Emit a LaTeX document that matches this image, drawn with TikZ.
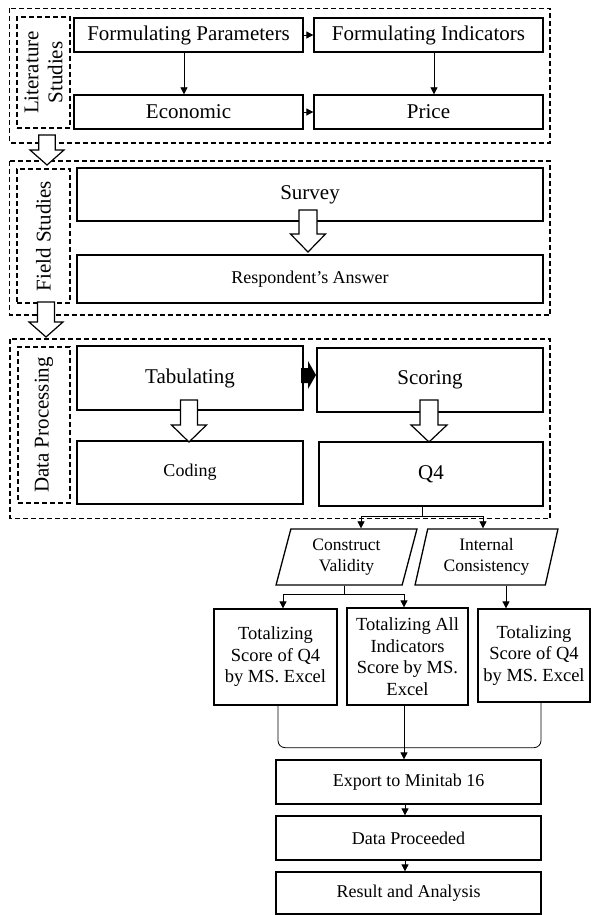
\documentclass[tikz,border=0pt]{standalone}
\usepackage{fontspec}
\setmainfont{Liberation Serif}
\usetikzlibrary{arrows.meta,shapes.geometric,calc}
\begin{document}
\begin{tikzpicture}[x=1pt,y=-1pt,
  box/.style={draw=black, line width=1.3pt, rectangle, inner sep=2pt, align=center},
  big/.style={font=\fontsize{21}{24}\selectfont},
  mid/.style={font=\fontsize{18.5}{21.5}\selectfont},
  grp/.style={draw=black, line width=1.2pt, dash pattern=on 5pt off 3pt},
  arr/.style={draw=black, line width=0.8pt, -{Triangle[length=7pt,width=7pt]}},
  ln/.style={draw=black, line width=0.8pt},
  hollow/.style={draw=black, line width=1.2pt, fill=white, line join=miter},
  para/.style={trapezium, trapezium left angle=76, trapezium right angle=104,
    trapezium stretches=true, draw=black, line width=1.3pt, align=center,
    inner sep=0pt, font=\fontsize{17.5}{21}\selectfont}
]
\newcommand\holarr[6]{% cx, shaft half, top, head start, head half, tip
  \draw[hollow] ({#1-#2},#3) -- ({#1+#2},#3) -- ({#1+#2},#4) -- ({#1+#5},#4)
    -- (#1,#6) -- ({#1-#5},#4) -- ({#1-#2},#4) -- cycle;}

\useasboundingbox (0,0) rectangle (592,915);
\fill[white] (0,0) rectangle (592,915);

% ---------- group 1: Literature Studies
\draw[grp] (9.5,8.5) rectangle (550,143);
\node[grp, rectangle, minimum width=53, minimum height=111] (lab1) at (43.5,72.5) {};
\node[big, rotate=90, align=center] (lab1t) at (lab1) {Literature\\Studies};
\node[box,big,minimum width=229,minimum height=34] (fp) at (188.5,35) {Formulating Parameters};
\node[box,big,minimum width=229,minimum height=34] (fi) at (428.5,35) {Formulating Indicators};
\node[box,big,minimum width=229,minimum height=34] (econ) at (188.5,112) {Economic};
\node[box,big,minimum width=229,minimum height=34] (price) at (428.5,112) {Price};
\draw[arr] (fp.east) -- (fi.west);
\draw[arr] (econ.east) -- (price.west);
\draw[arr] ($(fp.south)+(-4.5,0)$) -- ($(econ.north)+(-4.5,0)$);
\draw[arr] ($(fi.south)+(5.5,0)$) -- ($(price.north)+(5.5,0)$);

% ---------- group 2: Field Studies
\draw[grp] (9.5,161) rectangle (550,315);
\node[grp, rectangle, minimum width=53, minimum height=134] (lab2) at (43.5,236) {};
\node[big, rotate=90] (lab2t) at (lab2) {Field Studies};
\node[box,big,minimum width=466,minimum height=53] (survey) at (310,194.5) {Survey};
\node[box,mid,minimum width=466,minimum height=48,font=\fontsize{18}{21}\selectfont] (resp) at (310,279) {Respondent’s Answer};

% ---------- group 3: Data Processing
\draw[grp] (10,339) rectangle (550,518.5);
\node[grp, rectangle, minimum width=52, minimum height=156] (lab3) at (44,425) {};
\node[big, rotate=90] (lab3t) at (lab3) {Data Processing};
\node[box,big,minimum width=226,minimum height=64] (tab) at (190,378) {Tabulating};
\node[box,big,minimum width=226,minimum height=64] (score) at (430,380) {Scoring};
\node[box,minimum width=226,minimum height=63,font=\fontsize{18}{21}\selectfont] (coding) at (190,472.5) {Coding};
\node[box,big,minimum width=224,minimum height=64] (q4) at (431,474) {Q4};
\fill[black] (301,368) -- (308,368) -- (308,361) -- (316,375) -- (308,389) -- (308,383) -- (301,383) -- cycle;

% ---------- hollow block arrows
\holarr{47}{8.25}{135}{150}{17}{165}
\holarr{46}{8.5}{302}{322}{17}{337}
\holarr{308}{9}{210}{234}{17.5}{252}
\holarr{189}{8.5}{400}{425}{17.5}{442}
\holarr{429}{9}{400}{425}{18}{442}

% ---------- lower part
\node[para, minimum width=141, minimum height=56] (cv) at (346.5,557) {Construct\\Validity};
\node[para, minimum width=143, minimum height=56] (ic) at (486.5,557) {Internal\\Consistency};
\draw[arr] ($(q4.south)+(-9,0)$) -- ++(0,10) -| ($(cv.north)+(14.5,0)$);
\draw[arr] ($(q4.south)+(-9,0)$) -- ++(0,10) -| ($(ic.north)+(-3.5,0)$);

\node[box,mid,minimum width=123,minimum height=96] (t1) at (275.5,657) {Totalizing\\Score of Q4\\by MS. Excel};
\node[box,mid,minimum width=121,minimum height=97] (t2) at (407.5,656.5) {Totalizing All\\Indicators\\Score by MS.\\Excel};
\node[box,mid,minimum width=112,minimum height=93,inner sep=0pt] (t3) at (534,655.5) {Totalizing\\Score of Q4\\by MS. Excel};
\draw[arr] ($(cv.south)+(-2.5,0)$) -- ++(0,9) -| ($(t1.north)+(7.5,0)$);
\draw[arr] ($(cv.south)+(-2.5,0)$) -- ++(0,9) -| ($(t2.north)+(-3.5,0)$);
\coordinate (icb) at ($(ic.south)+(19.5,0)$);
\draw[arr] (icb) -- (icb |- t3.north);

\node[box,mid,minimum width=265,minimum height=44,font=\fontsize{18}{21}\selectfont] (export) at (408.5,782) {Export to Minitab 16};
\node[box,mid,minimum width=265,minimum height=44,font=\fontsize{18}{21}\selectfont] (dp) at (408.5,838) {Data Proceeded};
\node[box,mid,minimum width=265,minimum height=42,font=\fontsize{18}{21}\selectfont] (res) at (408.5,893) {Result and Analysis};

\draw[ln, rounded corners=7pt] ($(t1.south)+(2.5,0)$) -- ++(0,42) -| ($(t3.south)+(7,0)$);
\coordinate (t2b) at ($(t2.south)+(-3.5,0)$);
\draw[arr] (t2b) -- (t2b |- export.north);
\draw[arr] ($(export.south)+(-3.5,0)$) -- ($(dp.north)+(-3.5,0)$);
\draw[arr] ($(dp.south)+(-3.5,0)$) -- ($(res.north)+(-3.5,0)$);
\end{tikzpicture}
\end{document}
